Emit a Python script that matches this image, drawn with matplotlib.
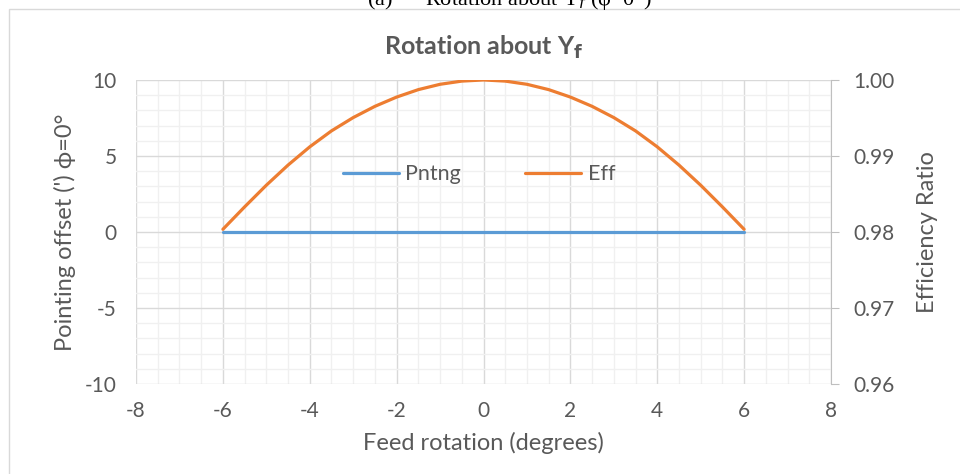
import matplotlib.pyplot as plt
from matplotlib.patches import Rectangle
from matplotlib.ticker import MultipleLocator

plt.rcParams['font.family'] = ['Lato', 'DejaVu Sans']
plt.rcParams['axes.unicode_minus'] = False

rot = [-6, -5.5, -5, -4.5, -4, -3.5, -3, -2.5, -2, -1.5, -1, -0.5, 0,
       0.5, 1, 1.5, 2, 2.5, 3, 3.5, 4, 4.5, 5, 5.5, 6]
pntng = [0] * len(rot)
eff = [0.98035, 0.98330, 0.98615, 0.98880, 0.99120, 0.99330, 0.99505,
       0.99653, 0.99775, 0.99873, 0.99943, 0.99985, 1.0,
       0.99985, 0.99943, 0.99873, 0.99775, 0.99653, 0.99505, 0.99330,
       0.99120, 0.98880, 0.98615, 0.98330, 0.98035]

grey = '#595959'
fig = plt.figure(figsize=(9.6, 4.74), dpi=100)
ax = fig.add_axes([0.1417, 0.19, 0.7239, 0.6413])
ax2 = ax.twinx()

l1, = ax.plot(rot, pntng, color='#5b9bd5', lw=2.3, label='Pntng', solid_capstyle='round')
l2, = ax2.plot(rot, eff, color='#ed7d31', lw=2.3, label='Eff',
               solid_capstyle='round', solid_joinstyle='round')

ax.set_xlim(-8, 8)
ax.set_ylim(-10, 10)
ax2.set_ylim(0.96, 1.00)
ax.xaxis.set_major_locator(MultipleLocator(2))
ax.xaxis.set_minor_locator(MultipleLocator(0.5))
ax.yaxis.set_major_locator(MultipleLocator(5))
ax.yaxis.set_minor_locator(MultipleLocator(1))
ax2.yaxis.set_major_locator(MultipleLocator(0.01))
ax2.yaxis.set_major_formatter(lambda v, p: f'{v:.2f}')

ax.grid(which='major', color='#d9d9d9', lw=1)
ax.grid(which='minor', color='#f0f0f0', lw=1)
ax.set_axisbelow(True)

for a in (ax, ax2):
    for s in a.spines.values():
        s.set_visible(False)
ax2.spines['right'].set_visible(True)
ax2.spines['right'].set_color('#bfbfbf')
ax2.tick_params(axis='y', length=6, color='#bfbfbf', labelcolor=grey, labelsize=15, pad=10)
ax.tick_params(which='both', length=0, labelcolor=grey, labelsize=15)
ax.tick_params(axis='x', pad=12)
ax.tick_params(axis='y', pad=14)

ax.set_xlabel('Feed rotation (degrees)', color=grey, fontsize=17, labelpad=8)
ax.set_ylabel("Pointing offset (') ϕ=0°", color=grey, fontsize=17, labelpad=6)
ax2.set_ylabel('Efficiency Ratio', color=grey, fontsize=17, labelpad=16)
ax.set_title('Rotation about Y$_\\mathbf{f}$', color=grey, fontsize=18,
             fontweight='bold', pad=18)

ax2.legend(handles=[l1, l2], loc='center', bbox_to_anchor=(0.4935, 0.69), ncol=2,
           frameon=False, fontsize=15.5, labelcolor=grey, handlelength=2.6,
           columnspacing=3.0, handletextpad=0.3)

fig.text(0.53, 1.0, '(a)      Rotation about Y$_f$ (φ=0°)', ha='center', va='center',
         family='Liberation Serif', fontsize=16, color='black')
fig.patches.append(Rectangle((9 / 960, -0.1), 1.1, 1 - 9 / 474 + 0.1,
                             transform=fig.transFigure, fill=False,
                             edgecolor='#d9d9d9', lw=1))

fig.savefig('out.png', dpi=100)
